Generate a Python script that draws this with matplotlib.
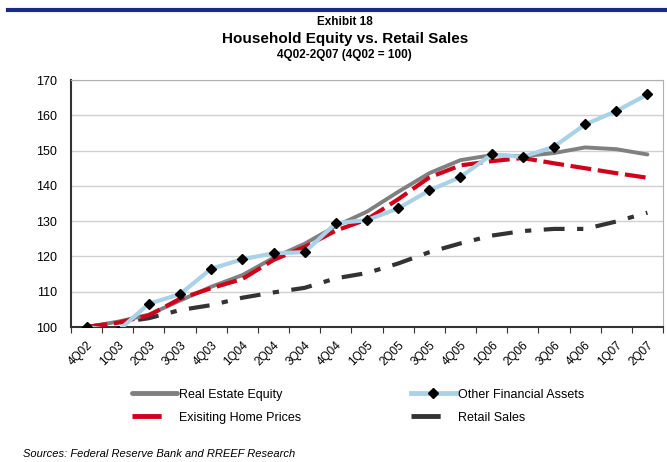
import matplotlib.pyplot as plt
from matplotlib.lines import Line2D
from matplotlib.transforms import ScaledTranslation

plt.rcParams['font.family'] = ['Liberation Sans', 'DejaVu Sans']

quarters = ['4Q02', '1Q03', '2Q03', '3Q03', '4Q03', '1Q04', '2Q04', '3Q04', '4Q04', '1Q05',
            '2Q05', '3Q05', '4Q05', '1Q06', '2Q06', '3Q06', '4Q06', '1Q07', '2Q07']
real_estate = [100, 101.5, 103.5, 107.5, 111.4, 114.7, 119.6, 123.6, 128.6, 132.7,
               138.3, 143.6, 147.3, 148.7, 148.4, 149.3, 150.9, 150.4, 148.9]
home_prices = [100, 101.2, 103.3, 108.0, 111.0, 113.6, 119.0, 122.7, 127.3, 130.5,
               136.2, 142.4, 145.8, 147.0, 147.9, 146.4, 145.0, 143.6, 142.3]
other_fin = [100, 98.8, 106.6, 109.3, 116.5, 119.2, 120.9, 121.2, 129.4, 130.3,
             133.6, 138.7, 142.5, 148.9, 148.2, 151.1, 157.4, 161.2, 165.9]
retail = [100, 101.2, 102.5, 104.8, 106.2, 108.3, 109.8, 111.1, 113.8, 115.3,
          118.0, 121.2, 123.7, 125.9, 127.2, 127.8, 127.8, 129.9, 132.4]

fig = plt.figure(figsize=(6.67, 4.62), dpi=100)
ax = fig.add_axes([0.1064, 0.2922, 0.8876, 0.5346])

x = list(range(len(quarters)))
ax.plot(x, real_estate, color='#808080', lw=2.8, solid_capstyle='round', zorder=3)
ax.plot(x, home_prices, color='#d0021b', lw=3, dashes=(5, 1.6), zorder=4)
ax.plot(x, other_fin, color='#a9d2e6', lw=3, marker='D', ms=5, mfc='black', mec='black', zorder=5)
ax.plot(x, retail, color='#333333', lw=3, dashes=(5, 3, 1.5, 3), zorder=2)

ax.set_xlim(-0.5, len(quarters) - 0.5)
ax.set_ylim(100, 170)
ax.set_yticks(range(100, 171, 10))
# tick marks sit between the quarters, labels on the quarters
ax.set_xticks([i - 0.5 for i in range(len(quarters) + 1)])
ax.set_xticklabels([])
ax.set_xticks(x, minor=True)
ax.set_xticklabels(quarters, minor=True, rotation=45, ha='right', va='top',
                   rotation_mode='anchor', fontsize=8.5)
shift = ScaledTranslation(-14 / 100, 0, fig.dpi_scale_trans)
for lbl in ax.get_xticklabels(minor=True):
    lbl.set_transform(lbl.get_transform() + shift)
ax.tick_params(axis='x', which='minor', length=0, pad=9)
ax.tick_params(axis='x', which='major', direction='out', length=4, color='#333333')
ax.tick_params(axis='y', length=0, labelsize=9, pad=10)

ax.grid(axis='y', color='#d0d0d0', lw=1)
ax.set_axisbelow(True)
for side in ['top', 'right']:
    ax.spines[side].set_color('#b0b0b0')
for side in ['left', 'bottom']:
    ax.spines[side].set_color('#333333')
    ax.spines[side].set_linewidth(1.5)

# legend, filled column by column
handles = [
    Line2D([], [], color='#808080', lw=3.5, solid_capstyle='round'),
    Line2D([], [], color='#d0021b', lw=3.5, dashes=(6, 20)),
    Line2D([], [], color='#a9d2e6', lw=3.5, marker='D', ms=5, mfc='black', mec='black', markevery=[1]),
    Line2D([], [], color='#333333', lw=3.5, dashes=(6, 20)),
]
labels = ['Real Estate Equity', 'Exisiting Home Prices', 'Other Financial Assets', 'Retail Sales']
fig.legend(handles, labels, ncol=2, loc='upper left', bbox_to_anchor=(0.1975, 0.159),
           frameon=False, fontsize=9, handlelength=3.6, handletextpad=0.15,
           columnspacing=8.8, labelspacing=0.9, borderaxespad=0, borderpad=0)

fig.add_artist(Line2D([0.012, 1.0], [0.978, 0.978], color='#1a2a8c', lw=3))
fig.text(0.517, 0.953, 'Exhibit 18', ha='center', va='center', fontsize=8.5, fontweight='bold')
fig.text(0.517, 0.916, 'Household Equity vs. Retail Sales', ha='center', va='center',
         fontsize=11, fontweight='bold')
fig.text(0.517, 0.882, '4Q02-2Q07 (4Q02 = 100)', ha='center', va='center', fontsize=8.5,
         fontweight='bold')
fig.text(0.0345, 0.017, 'Sources: Federal Reserve Bank and RREEF Research', ha='left',
         va='center', fontsize=8, style='italic')

fig.savefig('out.png', dpi=100)
